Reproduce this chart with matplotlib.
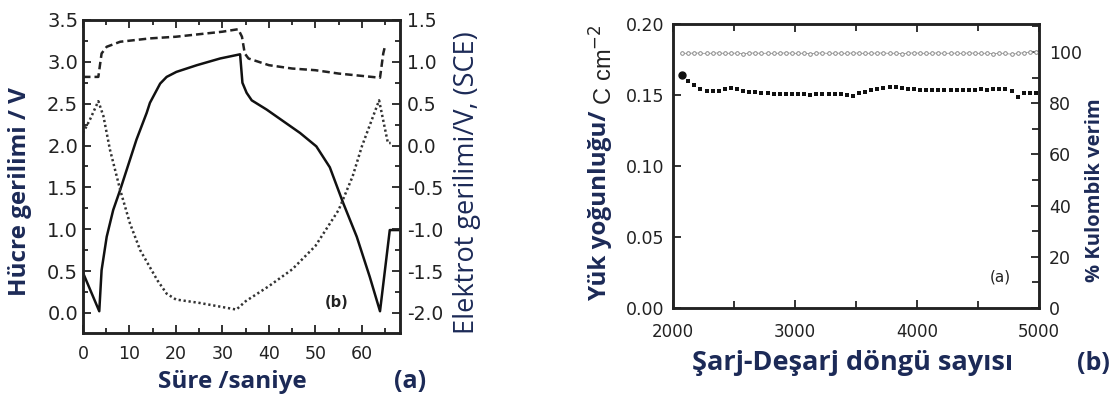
import numpy as np
import matplotlib.pyplot as plt
from matplotlib.ticker import MultipleLocator

# ---- sol panel: hücre ve elektrot gerilimleri ----
t_hucre = [0, 3.5, 4.0, 5.1, 6.5, 8.0, 9.4, 11.5, 13.7, 14.4, 16.6, 18.0, 20.1, 24.5,
           29.5, 33.8, 34.3, 35.2, 36.3, 39.5, 43.1, 46.7, 50.2, 53.1, 56.0, 58.9,
           61.7, 63.9, 66.0, 67.8]
v_hucre = [0.48, 0.02, 0.51, 0.91, 1.23, 1.47, 1.71, 2.07, 2.39, 2.51, 2.74, 2.82, 2.88,
           2.96, 3.04, 3.09, 2.75, 2.63, 2.54, 2.43, 2.29, 2.15, 1.99, 1.74, 1.31, 0.91,
           0.43, 0.02, 0.99, 0.99]

t_kesik = [0, 3.3, 4.0, 5.1, 8.0, 14.4, 20, 30, 33.4, 34.2, 34.8, 35.6, 40, 45, 50,
           55, 63.9, 64.6, 64.9]
v_kesik = [0.82, 0.82, 1.10, 1.18, 1.24, 1.28, 1.30, 1.36, 1.39, 1.30, 1.10, 1.04,
           0.96, 0.92, 0.90, 0.86, 0.81, 1.10, 1.17]

t_nokta = [0, 1.5, 3.3, 4.4, 5.8, 8, 10.1, 12.3, 16, 18, 20, 25, 30, 33, 35, 40, 45,
           50, 55, 58, 60, 63.7, 65.6, 66.2]
v_nokta = [0.15, 0.31, 0.53, 0.35, -0.05, -0.53, -0.93, -1.25, -1.61, -1.77, -1.84,
           -1.88, -1.93, -1.96, -1.86, -1.68, -1.48, -1.20, -0.77, -0.37, -0.01, 0.54,
           0.03, 0.03]

# ---- sag panel: döngü verileri ----
dongu = list(range(2075, 5000, 50))
yuk = [0.164, 0.160, 0.157, 0.1545, 0.153, 0.1525, 0.153, 0.154, 0.1548, 0.1543,
       0.153, 0.1524, 0.152, 0.1516, 0.1512, 0.151, 0.1508, 0.1506, 0.1505, 0.1505,
       0.1504, 0.1503, 0.1506, 0.1504, 0.1507, 0.1505, 0.1508, 0.1502, 0.1493, 0.1512,
       0.1522, 0.1535, 0.1543, 0.155, 0.1556, 0.1557, 0.1552, 0.1545, 0.154, 0.1538,
       0.1537, 0.1536, 0.1537, 0.1536, 0.1537, 0.1538, 0.1537, 0.1538, 0.1538, 0.1539,
       0.1538, 0.1541, 0.1543, 0.1541, 0.1525, 0.1488, 0.1512, 0.1515, 0.1512]
verim = [99.5, 99.4, 99.6, 99.5, 99.4, 99.5, 99.6, 99.4, 99.5, 99.5,
         99.3, 99.5, 99.6, 99.4, 99.5, 99.4, 99.5, 99.6, 99.5, 99.4,
         99.5, 99.3, 99.5, 99.6, 99.4, 99.5, 99.5, 99.4, 99.6, 99.5,
         99.4, 99.5, 99.5, 99.6, 99.4, 99.5, 99.3, 99.5, 99.6, 99.5,
         99.4, 99.5, 99.6, 99.4, 99.5, 99.5, 99.4, 99.6, 99.5, 99.4,
         99.5, 99.3, 99.5, 99.4, 99.1, 99.4, 99.7, 99.9, 100.1]

LACI = '#1c2a57'
YAZI = ['Open Sans', 'DejaVu Sans']
CIZGI = '#222222'

plt.rcParams['font.family'] = 'DejaVu Sans'
plt.rcParams['xtick.direction'] = 'in'
plt.rcParams['ytick.direction'] = 'in'

fig = plt.figure(figsize=(11.17, 4.03), dpi=100)


def cerceve(ax):
    for s in ax.spines.values():
        s.set_linewidth(1.8)
        s.set_color(CIZGI)
    ax.tick_params(which='both', width=1.3, colors=CIZGI)
    ax.tick_params(which='major', length=6)
    ax.tick_params(which='minor', length=3.5)


# sol panel
ax1 = fig.add_axes([0.0743, 0.1737, 0.2838, 0.7767])
ax1.plot(t_hucre, v_hucre, color='#111111', lw=1.8)
ax1.set_xlim(0, 68.2)
ax1.set_ylim(-0.24, 3.5)
ax1.xaxis.set_major_locator(MultipleLocator(10))
ax1.xaxis.set_minor_locator(MultipleLocator(5))
ax1.yaxis.set_major_locator(MultipleLocator(0.5))
ax1.yaxis.set_minor_locator(MultipleLocator(0.25))
ax1.yaxis.set_major_formatter(plt.FormatStrFormatter('%.1f'))
cerceve(ax1)
ax1.tick_params(which='both', top=True)
ax1.tick_params(axis='x', labelsize=12.5, pad=9)
ax1.tick_params(axis='y', labelsize=14, pad=3.5)
ax1.text(54.6, 0.12, '(b)', fontsize=10.5, fontweight='bold', color=CIZGI,
         ha='center', va='center')

ax2 = ax1.twinx()
ax2.plot(t_kesik, v_kesik, color=CIZGI, lw=1.8, dashes=(3, 1.6))
ax2.plot(t_nokta, v_nokta, color='#333333', lw=1.8, dashes=(0.9, 1.1))
ax2.set_ylim(-2.24, 1.5)
ax2.yaxis.set_major_locator(MultipleLocator(0.5))
ax2.yaxis.set_minor_locator(MultipleLocator(0.25))
ax2.yaxis.set_major_formatter(plt.FormatStrFormatter('%.1f'))
cerceve(ax2)
ax2.tick_params(axis='y', labelsize=13.5, pad=5)

# sag panel
ax3 = fig.add_axes([0.6025, 0.2357, 0.3277, 0.7047])
ax3.plot(dongu, yuk, 's', color='#111111', ms=3.2, mew=0)
ax3.plot(dongu[0], yuk[0], 'o', color='#111111', ms=5)
ax3.set_xlim(2000, 5000)
ax3.set_ylim(0, 0.2)
ax3.xaxis.set_major_locator(MultipleLocator(1000))
ax3.xaxis.set_minor_locator(MultipleLocator(500))
ax3.yaxis.set_major_locator(MultipleLocator(0.05))
ax3.yaxis.set_major_formatter(plt.FormatStrFormatter('%.2f'))
cerceve(ax3)
ax3.tick_params(which='both', top=True)
ax3.tick_params(which='minor', length=5)
ax3.tick_params(axis='x', labelsize=12, pad=11)
ax3.tick_params(axis='y', labelsize=12.5, pad=6)
ax3.text(4680, 0.022, '(a)', fontsize=11, color=CIZGI, ha='center', va='center')

ax4 = ax3.twinx()
ax4.plot(dongu, verim, 'o-', color='#999999', ms=2.6, mfc='white', mec='#888888',
         mew=0.7, lw=0.6)
ax4.set_ylim(0, 110.9)
ax4.yaxis.set_major_locator(MultipleLocator(20))
ax4.yaxis.set_minor_locator(MultipleLocator(10))
cerceve(ax4)
ax4.tick_params(which='minor', length=5)
ax4.tick_params(axis='y', labelsize=12.5, pad=7)

# eksen yazilari
fig.text(20 / 1117, 1 - 192 / 403, 'Hücre gerilimi / V', rotation=90, ha='center',
         va='center', fontsize=17.5, fontweight='bold', color=LACI, family=YAZI)
fig.text(467 / 1117, 1 - 183 / 403, 'Elektrot gerilimi/V, (SCE)', rotation=90,
         ha='center', va='center', fontsize=19.5, color=LACI, family=YAZI)
fig.text(232 / 1117, 1 - 382 / 403, 'Süre /saniye', ha='center', va='center',
         fontsize=17.5, fontweight='bold', color=LACI, family=YAZI)
fig.text(410 / 1117, 1 - 382 / 403, '(a)', ha='center', va='center',
         fontsize=18, fontweight='bold', color=LACI, family=YAZI)

yuk_yazi = fig.text(600 / 1117, 1 - 300 / 403, 'Yük yoğunluğu/', rotation=90,
                    ha='center', va='bottom', fontsize=17.5, fontweight='bold',
                    color=LACI, family=YAZI)
fig.canvas.draw()
kutu = yuk_yazi.get_window_extent(fig.canvas.get_renderer())
fig.text(604 / 1117, kutu.y1 / fig.bbox.height, ' C cm$^{-2}$', rotation=90,
         ha='center', va='bottom', fontsize=17, color=CIZGI, family='Liberation Sans')
fig.text(1095 / 1117, 1 - 190 / 403, '% Kulombik verim', rotation=90, ha='center',
         va='center', fontsize=14.5, fontweight='bold', color=LACI, family=YAZI)
fig.text(853 / 1117, 1 - 363 / 403, 'Şarj-Deşarj döngü sayısı', ha='center',
         va='center', fontsize=19.5, fontweight='bold', color=LACI, family=YAZI)
fig.text(1093 / 1117, 1 - 363 / 403, '(b)', ha='center', va='center',
         fontsize=18, fontweight='bold', color=LACI, family=YAZI)

fig.savefig('out.png', dpi=100)
